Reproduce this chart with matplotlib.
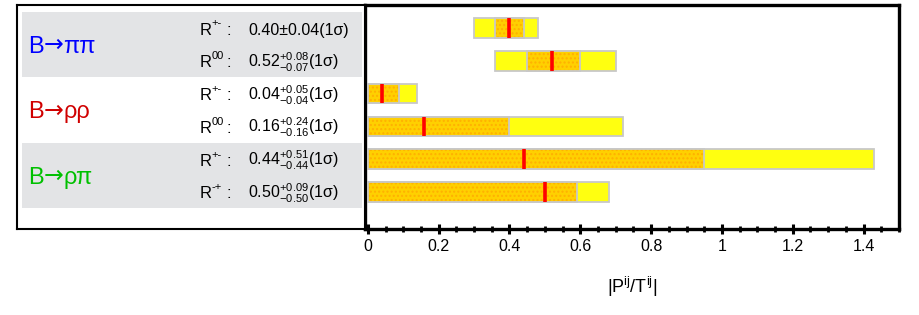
import matplotlib
matplotlib.use("Agg")
import matplotlib.pyplot as plt
from matplotlib.patches import Rectangle
from matplotlib.ticker import MultipleLocator

plt.rcParams['font.family'] = ['Liberation Sans', 'DejaVu Sans']
plt.rcParams['mathtext.fontset'] = 'custom'
plt.rcParams['mathtext.rm'] = 'Liberation Sans'

# ---- data ----
group_heads = ['B', 'B', 'B']
group_tails = ['ππ', 'ρρ', 'ρπ']
group_colors = ['#0000FF', '#D00000', '#00C000']
row_sups = ['+-', '00', '+-', '00', '+-', '-+']
row_values = ['0.40\u00b10.04(1\u03c3)',
              r'$\mathregular{0.52^{+0.08}_{-0.07}}$(1σ)',
              r'$\mathregular{0.04^{+0.05}_{-0.04}}$(1σ)',
              r'$\mathregular{0.16^{+0.24}_{-0.16}}$(1σ)',
              r'$\mathregular{0.44^{+0.51}_{-0.44}}$(1σ)',
              r'$\mathregular{0.50^{+0.09}_{-0.50}}$(1σ)']
central = [0.40, 0.52, 0.04, 0.16, 0.44, 0.50]
inner_lo = [0.36, 0.45, 0.00, 0.00, 0.00, 0.00]
inner_hi = [0.44, 0.60, 0.088, 0.40, 0.95, 0.59]
outer_lo = [0.30, 0.36, 0.00, 0.00, 0.00, 0.00]
outer_hi = [0.48, 0.70, 0.138, 0.72, 1.43, 0.68]
xticks = [0, 0.2, 0.4, 0.6, 0.8, 1.0, 1.2, 1.4]
xticklabels = ['0', '0.2', '0.4', '0.6', '0.8', '1', '1.2', '1.4']

W, H = 919, 315
fig = plt.figure(figsize=(W / 100, H / 100), dpi=100)

ylim = (6.13, -0.70)
bar_h = 0.6

# ---- right axes with bars ----
ax = fig.add_axes([365 / W, (H - 229) / H, (899 - 365) / W, (229 - 5) / H])
ax.set_xlim(-0.008, 1.5)
ax.set_ylim(*ylim)
for i in range(len(central)):
    ax.add_patch(Rectangle((outer_lo[i], i - bar_h / 2), outer_hi[i] - outer_lo[i], bar_h,
                           facecolor='#FFFF10', edgecolor='#C8C8C8', lw=1.3, zorder=2))
    ax.add_patch(Rectangle((inner_lo[i], i - bar_h / 2), inner_hi[i] - inner_lo[i], bar_h,
                           facecolor='#FFD000', edgecolor='#FFB000', hatch='....', lw=0, zorder=3))
    ax.add_patch(Rectangle((inner_lo[i], i - bar_h / 2), inner_hi[i] - inner_lo[i], bar_h,
                           facecolor='none', edgecolor='#C8C8C8', lw=1.3, zorder=4))
    ax.vlines(central[i], i - bar_h / 2, i + bar_h / 2, color='#FF0000', lw=2.6, zorder=5)

ax.set_yticks([])
ax.set_xticks(xticks)
ax.set_xticklabels(xticklabels, fontsize=11.5)
ax.xaxis.set_minor_locator(MultipleLocator(0.05))
ax.tick_params(axis='x', which='major', direction='inout', length=7, width=2.2, pad=4)
ax.tick_params(axis='x', which='minor', direction='inout', length=4, width=2.0)
for s in ax.spines.values():
    s.set_linewidth(2.4)
ax.set_xlabel(r'|P$^{\mathregular{ij}}$/T$^{\mathregular{ij}}$|', fontsize=13, labelpad=15)

# ---- left text panel ----
axl = fig.add_axes([17 / W, (H - 229) / H, (365 - 17) / W, (229 - 5) / H])
axl.set_xlim(17, 365)
axl.set_ylim(*ylim)
axl.set_xticks([])
axl.set_yticks([])
for s in axl.spines.values():
    s.set_linewidth(1.5)
for (lo, hi) in [(-0.5, 1.5), (3.5, 5.5)]:
    axl.add_patch(Rectangle((22, lo), 340, hi - lo, facecolor='#E3E4E6', edgecolor='none', zorder=0))

renderer = fig.canvas.get_renderer()
inv = axl.transData.inverted()
for g in range(len(group_heads)):
    yb = 2 * g + 0.5 + 0.25
    col = group_colors[g]
    t1 = axl.text(28, yb, group_heads[g], color=col, fontsize=17, ha='left', va='baseline')
    x1 = inv.transform((t1.get_window_extent(renderer).x1, 0))[0]
    t2 = axl.text(x1, yb - 0.02, '\u2192', color=col, fontsize=17, ha='left', va='baseline',
                  family='DejaVu Sans')
    x2 = inv.transform((t2.get_window_extent(renderer).x1, 0))[0]
    axl.text(x2, yb, group_tails[g], color=col, fontsize=17, ha='left', va='baseline')

for i in range(len(row_sups)):
    base = i + 0.2
    axl.text(200, base, 'R', fontsize=12, ha='left', va='baseline')
    axl.text(211.5, base - 0.25, row_sups[i], fontsize=8, ha='left', va='baseline')
    axl.text(226, base, ':', fontsize=12, ha='left', va='baseline')
    axl.text(248, base, row_values[i], fontsize=11.5, ha='left', va='baseline')

fig.savefig('out.png', dpi=100)
